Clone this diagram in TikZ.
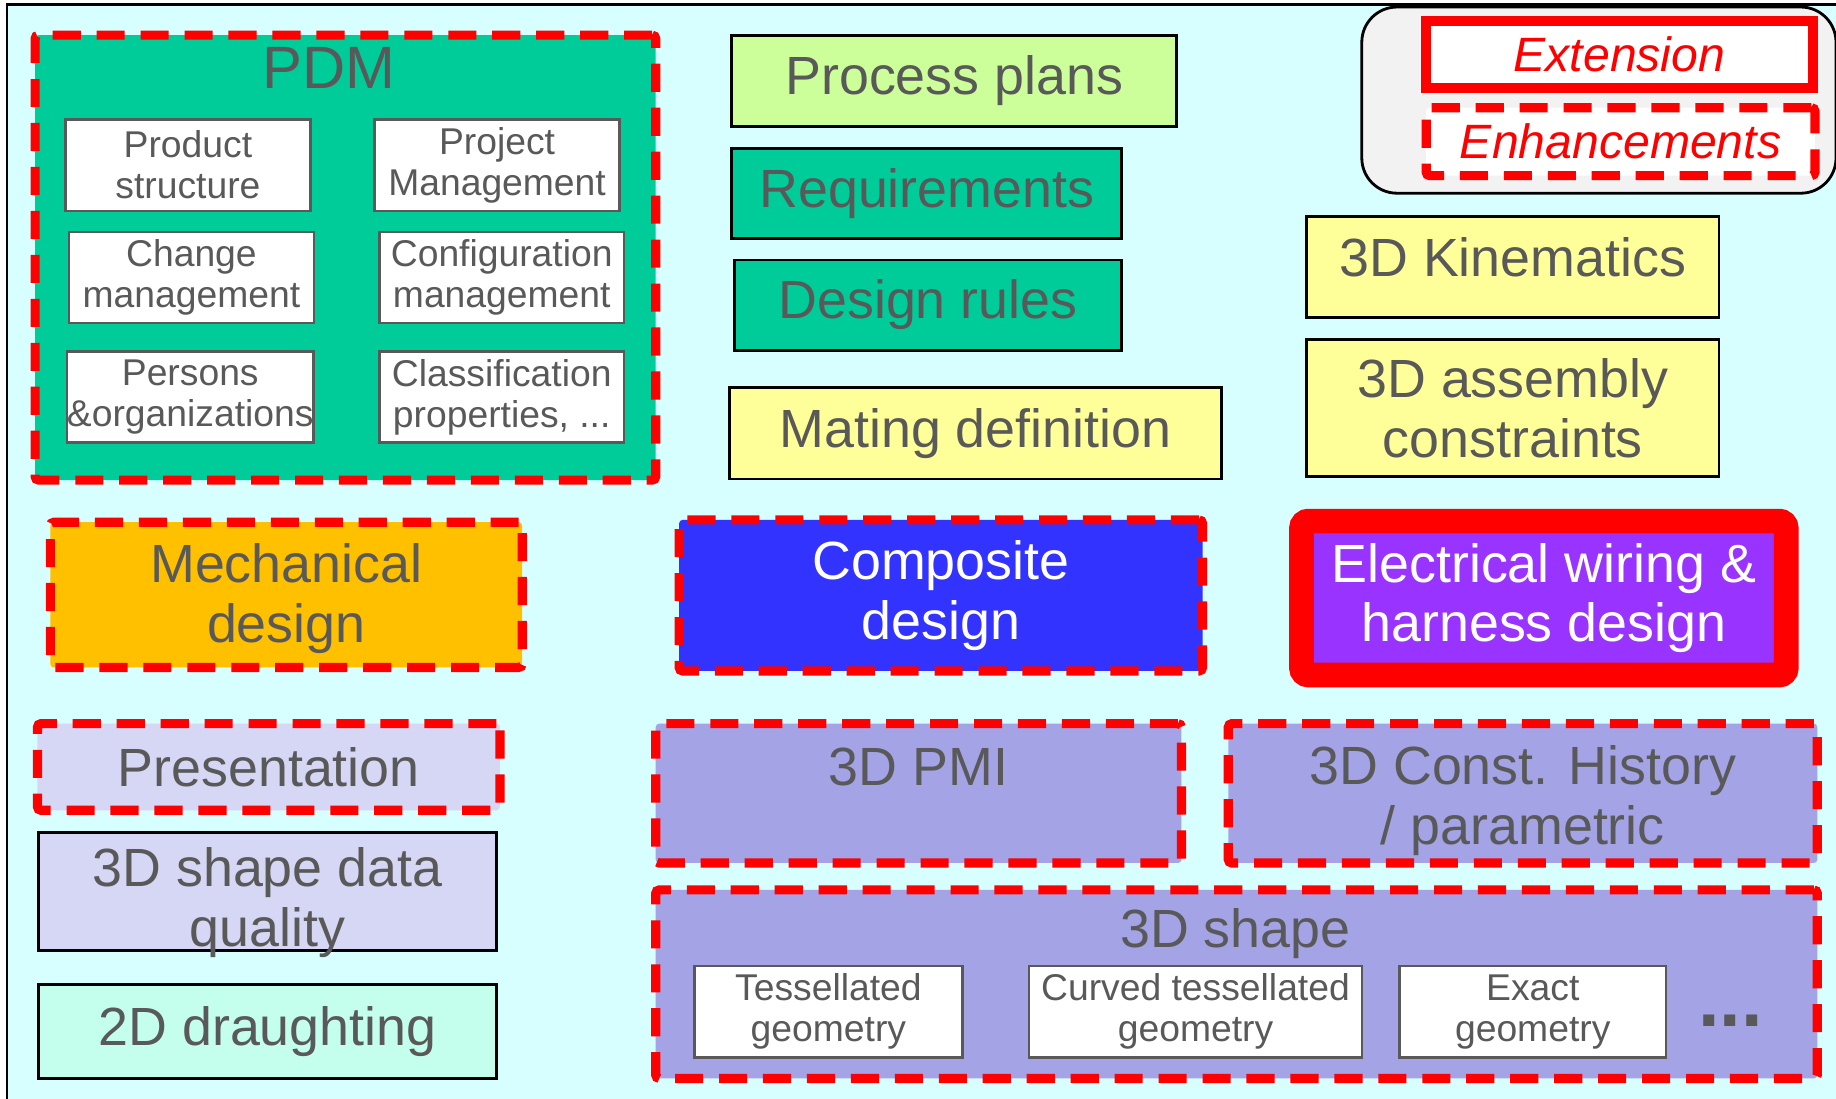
\documentclass[tikz,border=0pt]{standalone}
\usepackage{fontspec}
\setmainfont{Liberation Sans}
\definecolor{txt}{HTML}{595959}
\definecolor{bg}{HTML}{D7FFFF}
\definecolor{pdmgreen}{HTML}{00CC99}
\definecolor{plangreen}{HTML}{CCFF99}
\definecolor{paleyellow}{HTML}{FFFF99}
\definecolor{mechorange}{HTML}{FFC000}
\definecolor{compblue}{HTML}{3333FF}
\definecolor{wirepurple}{HTML}{9933FF}
\definecolor{lavender}{HTML}{D6D6F5}
\definecolor{periwinkle}{HTML}{A3A3E6}
\definecolor{mint}{HTML}{C4FFEE}
\definecolor{legendgray}{HTML}{F2F2F2}
\newdimen\px
\px=0.01171cm
\tikzset{
    big/.style={font=\fontsize{15.3}{17}\selectfont},
    small/.style={font=\fontsize{10.6}{11.7}\selectfont},
    box/.style={draw=black,line width=0.8pt,big},
    ext/.style={draw=red,line width=2.6pt,dash pattern=on 8pt off 4.5pt,rounded corners=1pt,big},
    sub/.style={draw=txt,line width=0.7pt,fill=white,small,minimum height=78*\px}}
\begin{document}
\begin{tikzpicture}[x=\px,y=-\px,
    every node/.style={inner sep=0pt,text=txt,align=center}]
  \path[use as bounding box,fill=white] (0,0) rectangle (1568,938);
  \draw[fill=bg,line width=0.7pt] (6,4) rectangle (1620,980);

  \node[ext,fill=pdmgreen,minimum width=530*\px,minimum height=380*\px] (pdm) at (295,220) {};
  \node[font=\fontsize{17}{20}\selectfont] (pdmtitle) at (281,58) {PDM};
  \node[sub,minimum width=209*\px] (prod) at (160.5,141) {Product\\structure};
  \node[sub,minimum width=209*\px] (proj) at (424.5,141) {Project\\Management};
  \node[sub,minimum width=209*\px] (chg) at (163.5,237) {Change\\management};
  \node[sub,minimum width=209*\px] (conf) at (428.5,237) {Configuration\\management};
  \node[sub,minimum width=209*\px] (pers) at (162.5,339) {Persons\\\&organizations};
  \node[sub,minimum width=209*\px] (clas) at (428.5,339) {Classification\\properties, ...};

  \node[box,fill=plangreen,minimum width=380*\px,minimum height=78*\px] (plans) at (815,69) {Process plans};
  \node[box,fill=pdmgreen,minimum width=333*\px,minimum height=77*\px] (req) at (791.5,165.5) {Requirements};
  \node[box,fill=pdmgreen,minimum width=331*\px,minimum height=77*\px] (rules) at (792.5,260.5) {Design rules};
  \node[box,fill=paleyellow,minimum width=420*\px,minimum height=78*\px] (mating) at (833,370) {Mating definition};

  \node[draw=black,line width=0.8pt,fill=legendgray,rounded corners=10pt,
    minimum width=405*\px,minimum height=159*\px] (legend) at (1365.5,85.5) {};
  \node[draw=red,line width=2.8pt,fill=white,minimum width=330*\px,minimum height=57*\px,text=red,
    font=\itshape\fontsize{13.7}{15}\selectfont] (extn) at (1383,46.5) {Extension};
  \node[ext,fill=white,minimum width=332*\px,minimum height=58*\px,text=red,
    font=\itshape\fontsize{13.7}{15}\selectfont] (enh) at (1384,121) {Enhancements};

  \node[box,fill=paleyellow,minimum width=352*\px,minimum height=86*\px] (kin) at (1292,228) {};
  \node[big] (kintext) at (1292,220) {3D Kinematics};
  \node[box,fill=paleyellow,minimum width=352*\px,minimum height=117*\px] (asm) at (1292,348.5) {3D assembly\\constraints};

  \node[ext,fill=mechorange,minimum width=403*\px,minimum height=124*\px] (mech) at (244.5,508) {};
  \node[big] (mechtext) at (244.5,511) {Mechanical\\design};
  \node[ext,fill=compblue,minimum width=447*\px,minimum height=129*\px,text=white] (comp) at (803.5,508.5) {Composite\\design};
  \node[draw=red,line width=7pt,fill=wirepurple,rounded corners=2pt,minimum width=414*\px,minimum height=131.5*\px,
    big,text=white] (wire) at (1318.5,510.75) {Electrical wiring \&\\harness design};

  \node[ext,fill=lavender,minimum width=395*\px,minimum height=74*\px] (pres) at (229.5,655) {Presentation};
  \node[box,fill=lavender,minimum width=391*\px,minimum height=101*\px] (sdq) at (228.5,761.5) {};
  \node[big] (sdqtext) at (228.5,771) {3D shape data\\quality};
  \node[box,fill=mint,minimum width=391*\px,minimum height=80*\px] (draught) at (228.5,881) {2D draughting};

  \node[ext,fill=periwinkle,minimum width=449*\px,minimum height=119*\px] (pmi) at (784.5,677.5) {};
  \node[big] (pmitext) at (784.5,655) {3D PMI};
  \node[ext,fill=periwinkle,minimum width=503*\px,minimum height=119*\px] (hist) at (1300.5,677.5) {};
  \node[big] (histtext) at (1300.5,683.5) {3D Const. History\\/ parametric};
  \node[ext,fill=periwinkle,minimum width=992*\px,minimum height=161*\px] (shape) at (1056,840.5) {};
  \node[big] (shapetext) at (1055,797) {3D shape};
  \node[sub,minimum width=229*\px] (tess) at (707.5,864) {Tessellated\\geometry};
  \node[sub,minimum width=284*\px] (curv) at (1021,864) {Curved tessellated\\geometry};
  \node[sub,minimum width=228*\px] (exact) at (1309,864) {Exact\\geometry};
  \node[font=\bfseries\fontsize{22}{22}\selectfont] (dots) at (1478,872) {...};
\end{tikzpicture}
\end{document}
